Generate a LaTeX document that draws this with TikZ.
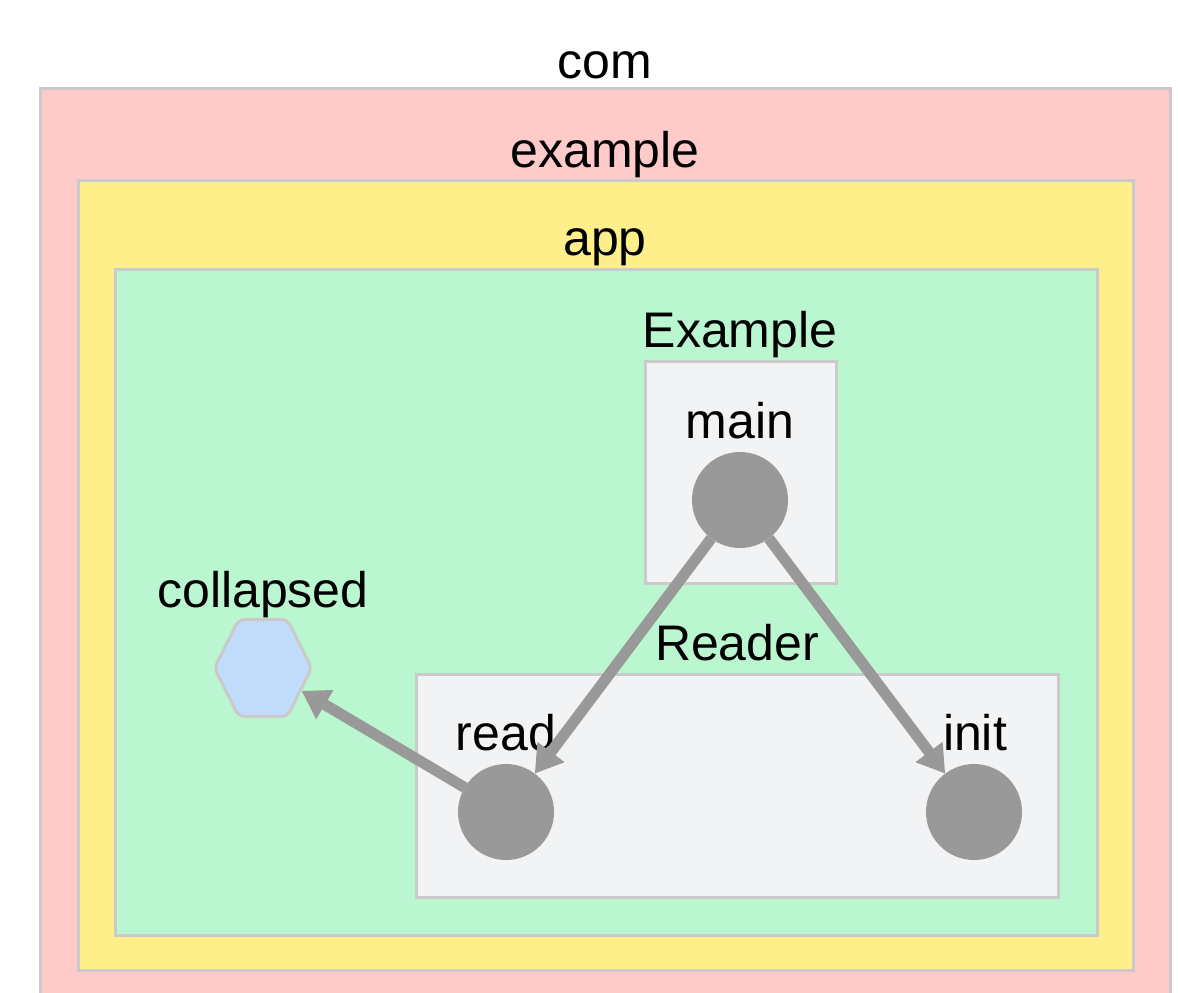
\documentclass[tikz,border=0pt]{standalone}
\usepackage{fontspec}
\setmainfont{Liberation Sans}
\usetikzlibrary{shapes.geometric,arrows.meta}
\definecolor{comfill}{HTML}{FFCACA}
\definecolor{examplefill}{HTML}{FEEF8B}
\definecolor{appfill}{HTML}{BAF6D0}
\definecolor{classfill}{HTML}{F2F3F5}
\definecolor{edgegray}{HTML}{CACACA}
\definecolor{funcgray}{HTML}{999999}
\definecolor{hexfill}{HTML}{C2DCFC}
\begin{document}
\begin{tikzpicture}[x=1pt,y=-1pt,
  box/.style={draw=edgegray, line width=3pt, anchor=north west, inner sep=0pt, outer sep=0pt},
  lbl/.style={font=\fontsize{50}{60}\selectfont, anchor=base, inner sep=0pt},
  func/.style={circle, fill=funcgray, minimum size=96pt, inner sep=0pt, outer sep=0pt},
  hexnode/.style={regular polygon, regular polygon sides=6, minimum size=112pt,
    xscale=0.866, transform shape, fill=hexfill, draw=edgegray, line width=3pt,
    rounded corners=6pt, inner sep=0pt},
  dep/.style={draw=funcgray, line width=11pt, -{Triangle[length=27pt,width=32pt]}}]
\useasboundingbox (0,0) rectangle (1178,993);
\fill[white] (0,0) rectangle (1178,993);

% nested package clusters
\node[box, fill=comfill, minimum width=1130pt, minimum height=932pt] (com) at (40,88) {};
\node[lbl] (comlbl) at (605,78) {com};
\node[box, fill=examplefill, minimum width=1055pt, minimum height=790pt] (example) at (78,180) {};
\node[lbl] (examplelbl) at (605,167) {example};
\node[box, fill=appfill, minimum width=982pt, minimum height=666pt] (app) at (115,269) {};
\node[lbl] (applbl) at (605,255) {app};

% class clusters
\node[box, fill=classfill, minimum width=191pt, minimum height=222pt] (Example) at (645,361) {};
\node[lbl] (Examplelbl) at (740,347) {Example};
\node[box, fill=classfill, minimum width=642pt, minimum height=223pt] (Reader) at (416,674) {};
\node[lbl] (Readerlbl) at (737,660) {Reader};

% functions
\node[func] (main) at (740,500) {};
\node[lbl] (mainlbl) at (740,438) {main};
\node[func] (read) at (506,812) {};
\node[lbl] (readlbl) at (506,750) {read};
\node[func] (init) at (974,812) {};
\node[lbl] (initlbl) at (975,750) {init};

% collapsed package
\node[hexnode] (collapsed) at (263,668) {};
\node[lbl] (collapsedlbl) at (263,607) {collapsed};

% calls
\draw[dep] (main) -- (read);
\draw[dep] (main) -- (init);
\draw[dep] (read) -- (collapsed);
\end{tikzpicture}
\end{document}
